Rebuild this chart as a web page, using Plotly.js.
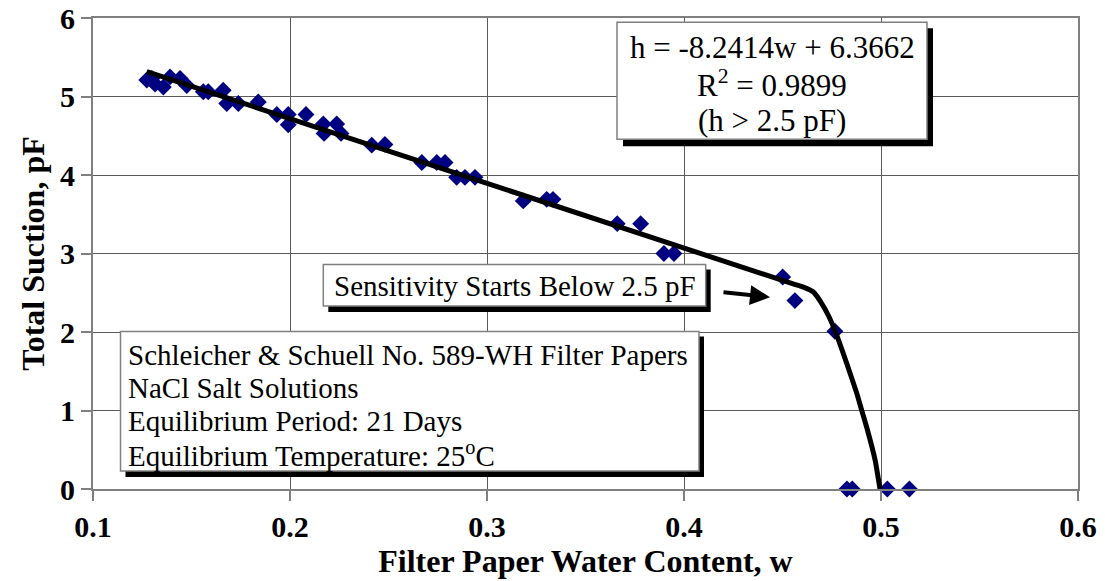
<!DOCTYPE html>
<html>
<head>
<meta charset="utf-8">
<script src="https://cdn.plot.ly/plotly-3.0.1.min.js"></script>
<style>html,body{margin:0;padding:0;background:#fff;}#chart{width:1105px;height:581px;}</style>
</head>
<body>
<div id="chart"></div>
<script>
// Measured data: filter paper water content (w) and total suction (pF)
const waterContent = [0.1273, 0.1299, 0.1315, 0.1357, 0.1391, 0.1442, 0.1476, 0.1560, 0.1585, 0.1661,
  0.1679, 0.1738, 0.1839, 0.1933, 0.1991, 0.1991, 0.2081, 0.2169, 0.2173, 0.2237,
  0.2259, 0.2415, 0.2482, 0.2669, 0.2745, 0.2787, 0.2846, 0.2888, 0.2939, 0.3184,
  0.3303, 0.3335, 0.3661, 0.3780, 0.3898, 0.3949, 0.4501, 0.4563, 0.4766, 0.4827,
  0.4854, 0.5032, 0.5144];
const totalSuction = [5.21, 5.23, 5.16, 5.12, 5.25, 5.23, 5.14, 5.06, 5.06, 5.08,
  4.91, 4.91, 4.93, 4.77, 4.77, 4.64, 4.77, 4.65, 4.53, 4.65,
  4.53, 4.38, 4.39, 4.16, 4.16, 4.16, 3.97, 3.97, 3.97, 3.67,
  3.69, 3.69, 3.38, 3.38, 3.00, 3.00, 2.70, 2.40, 2.01, 0,
  0, 0, 0];

// Fitted curve (linear part h = -8.2414w + 6.3662 then the drop-off)
const fitW = [0.1273, 0.4550, 0.4606, 0.4657, 0.4690, 0.4733, 0.4775, 0.4826, 0.4877, 0.4900, 0.4927, 0.4970, 0.4995];
const fitH = [5.317, 2.616, 2.572, 2.51, 2.40, 2.21, 1.96, 1.60, 1.22, 1.02, 0.79, 0.37, 0.0];

const xTicks = [0.1, 0.2, 0.3, 0.4, 0.5, 0.6];
const xTickText = ['0.1', '0.2', '0.3', '0.4', '0.5', '0.6'];
const yTicks = [0, 1, 2, 3, 4, 5, 6];

const equationLines = ['h = -8.2414w + 6.3662', 'R<sup>2</sup> = 0.9899', '(h &gt; 2.5 pF)'];
const infoLines = ['Schleicher &amp; Schuell No. 589-WH Filter Papers', 'NaCl Salt Solutions',
  'Equilibrium Period: 21 Days', 'Equilibrium Temperature: 25<sup>o</sup>C'];
const noteText = 'Sensitivity Starts Below 2.5 pF';

// pixel -> paper helpers (plot area 93..1078 x 17.5..489)
const PL = 93, PR = 1078, PT = 17.5, PB = 489;
const X = px => (px - PL) / (PR - PL);
const Y = py => (PB - py) / (PB - PT);

const serif = 'Liberation Serif, Times New Roman, serif';

const traces = [
  {
    x: waterContent, y: totalSuction, type: 'scatter', mode: 'markers',
    marker: {symbol: 'diamond', size: 13, color: '#000080', line: {width: 0}},
    cliponaxis: false, hoverinfo: 'x+y'
  },
  {
    x: fitW, y: fitH, type: 'scatter', mode: 'lines',
    line: {color: '#000000', width: 5, shape: 'spline', smoothing: 0.4},
    cliponaxis: false, hoverinfo: 'skip'
  }
];

function box(x0, y0, x1, y1, off) {
  return [
    {type: 'rect', xref: 'paper', yref: 'paper', x0: X(x0 + off), x1: X(x1 + off), y0: Y(y1 + off + 1), y1: Y(y0 + off),
      fillcolor: '#000000', line: {width: 0}, layer: 'above'},
    {type: 'rect', xref: 'paper', yref: 'paper', x0: X(x0), x1: X(x1), y0: Y(y1), y1: Y(y0),
      fillcolor: '#ffffff', line: {color: '#808080', width: 1.5}, layer: 'above'}
  ];
}

const shapes = [].concat(
  box(617, 21.7, 927, 139, 6),
  box(323.3, 264.3, 705.7, 305.7, 5),
  box(120.5, 331.3, 699, 471, 5)
);

const annotations = [];
const eqY = [47, 83, 120];
equationLines.forEach((t, i) => annotations.push({
  xref: 'paper', yref: 'paper', x: X(772), y: Y(eqY[i]), xanchor: 'center', yanchor: 'middle',
  text: t, showarrow: false, font: {family: serif, size: 31, color: '#000'}
}));
const infoY = [355, 388, 421, 454];
infoLines.forEach((t, i) => annotations.push({
  xref: 'paper', yref: 'paper', x: X(126), y: Y(infoY[i]), xanchor: 'left', yanchor: 'middle',
  text: t, showarrow: false, font: {family: serif, size: 29, color: '#000'}
}));
annotations.push({
  xref: 'paper', yref: 'paper', x: X(514.5), y: Y(286), xanchor: 'center', yanchor: 'middle',
  text: noteText, showarrow: false, font: {family: serif, size: 29, color: '#000'}
});
annotations.push({
  xref: 'paper', yref: 'paper', x: X(770), y: Y(297), ax: -48, ay: -5,
  text: '', showarrow: true, arrowhead: 2, arrowsize: 1, arrowwidth: 4, arrowcolor: '#000'
});

const layout = {
  width: 1105, height: 581,
  margin: {l: PL, r: 1105 - PR, t: PT, b: 581 - PB, pad: 0},
  paper_bgcolor: '#ffffff', plot_bgcolor: '#ffffff',
  showlegend: false,
  xaxis: {
    range: [0.1, 0.6], tickvals: xTicks, ticktext: xTickText,
    showgrid: true, gridcolor: '#5a5a5a', gridwidth: 1,
    zeroline: false, showline: true, linecolor: '#808080', linewidth: 2, mirror: true,
    ticks: 'outside', ticklen: 10, tickcolor: '#808080', tickwidth: 1.5,
    tickfont: {family: serif, size: 30, color: '#000', weight: 700},
    title: {text: 'Filter Paper Water Content, w', font: {family: serif, size: 32, color: '#000', weight: 700}, standoff: 8}
  },
  yaxis: {
    range: [0, 6], tickvals: yTicks,
    showgrid: true, gridcolor: '#5a5a5a', gridwidth: 1,
    zeroline: false, showline: true, linecolor: '#808080', linewidth: 2, mirror: true,
    ticks: 'outside', ticklen: 10, tickcolor: '#808080', tickwidth: 1.5,
    tickfont: {family: serif, size: 30, color: '#000', weight: 700},
    title: {text: 'Total Suction, pF', font: {family: serif, size: 32, color: '#000', weight: 700}, standoff: 6}
  },
  shapes: shapes,
  annotations: annotations
};

Plotly.newPlot('chart', traces, layout, {displayModeBar: false, responsive: false});
</script>
</body>
</html>
